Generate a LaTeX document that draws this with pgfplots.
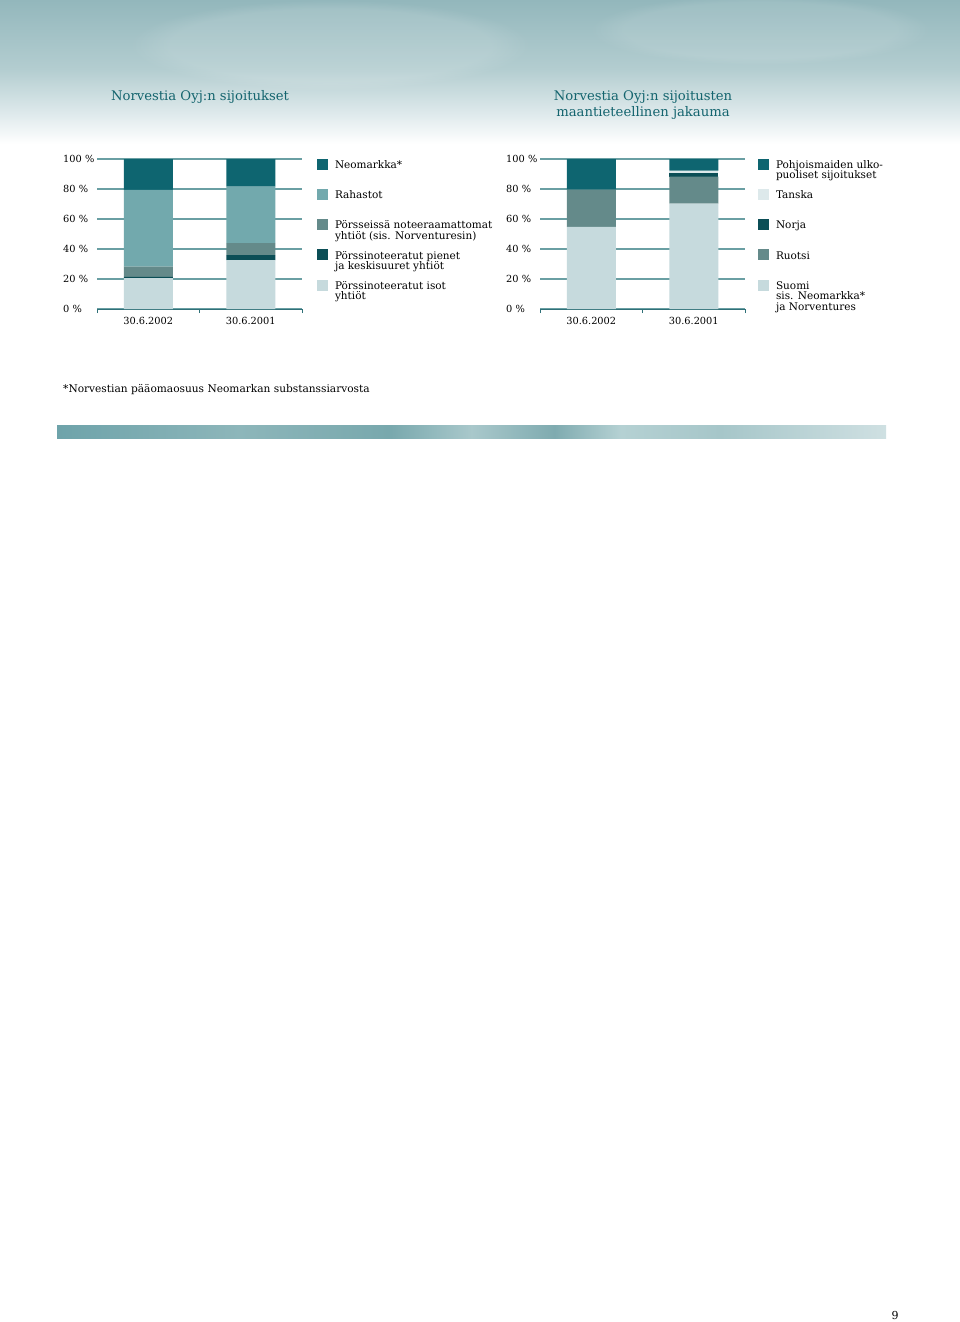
\documentclass[border=0pt]{standalone}
\usepackage{fontspec}
\setmainfont{DejaVu Serif}
\usepackage{pgfplots}
\pgfplotsset{compat=1.18}
\usetikzlibrary{fadings}

\definecolor{neo}{HTML}{0E6570}
\definecolor{raha}{HTML}{72A9AD}
\definecolor{note}{HTML}{648A8A}
\definecolor{pien}{HTML}{0B4E56}
\definecolor{isot}{HTML}{C6DADD}
\definecolor{tans}{HTML}{DDE9EB}
\definecolor{gridc}{HTML}{6A9FA3}
\definecolor{axc}{HTML}{2F7078}
\definecolor{titc}{HTML}{13646E}
\definecolor{banA}{HTML}{93B7BC}
\definecolor{banB}{HTML}{B3CDD0}
\definecolor{banC}{HTML}{DCE8EA}
\definecolor{s1}{HTML}{6EA3AA}
\definecolor{s2}{HTML}{8DB6BA}
\definecolor{s3}{HTML}{78A8AD}
\definecolor{s4}{HTML}{A9C8CB}
\definecolor{s5}{HTML}{7FABB0}
\definecolor{s6}{HTML}{B5D1D3}
\definecolor{s7}{HTML}{A6C6C9}
\definecolor{s8}{HTML}{CFE0E2}

% TikZ fits the middle 50bp of a shading to the path
\pgfdeclareverticalshading{banner}{100bp}{color(0bp)=(white); color(27bp)=(white); color(38bp)=(banC); color(52bp)=(banB); color(75bp)=(banA); color(100bp)=(banA)}
\pgfdeclarehorizontalshading{strip}{100bp}{color(0bp)=(s1); color(25bp)=(s1); color(36bp)=(s2); color(45bp)=(s3); color(50bp)=(s4); color(55bp)=(s5); color(59bp)=(s6); color(65bp)=(s7); color(75bp)=(s8); color(100bp)=(s8)}

% legend text: smashed so every row keeps the same pitch
\newcommand{\legtxt}[1]{\smash{\parbox[t]{180pt}{\fontsize{10.5}{10.5}\selectfont\raggedright #1}}}

\pgfplotsset{
  pagechart/.style={
    scale only axis, width=205pt, height=150pt,
    anchor=south west,
    xmin=0, xmax=2, ymin=0, ymax=100,
    ybar stacked, bar width=49pt,
    axis lines*=left,
    y axis line style={draw=none},
    x axis line style={axc, line width=1pt, -},
    ytick={0,20,...,100},
    yticklabels={0 \%,20 \%,40 \%,60 \%,80 \%,100 \%},
    ymajorgrids, major grid style={gridc, line width=1.4pt},
    ytick style={draw=none},
    xtick={0.5,1.5},
    xticklabels={30.6.2002,30.6.2001},
    major x tick style={draw=none},
    minor xtick={0,1,2},
    xtick align=outside,
    minor tick length=4pt,
    minor x tick style={axc, line width=1pt},
    tick label style={font=\fontsize{9.8}{11}\selectfont, text=black},
    yticklabel style={anchor=west, inner sep=0pt, xshift=-34pt},
    xticklabel style={yshift=0pt},
    clip=false,
    legend cell align=left,
    reverse legend,
    legend style={draw=none, fill=none, inner sep=0pt, outer sep=0pt,
      anchor=north west, row sep=19pt, column sep=7pt,
      nodes={inner sep=0pt}},
    legend image code/.code={\fill[##1] (0pt,-0.5pt) rectangle (11pt,10.5pt);},
  },
}

\begin{document}
\begin{tikzpicture}
\fill[white] (0pt,0pt) rectangle (960pt,-1322pt);
\path[use as bounding box] (0pt,0pt) rectangle (960pt,-1322pt);

% header banner
\shade[shading=banner] (0pt,0pt) rectangle (960pt,-150pt);
\fill[white, opacity=0.12, path fading=circle with fuzzy edge 20 percent] (330pt,-45pt) ellipse (200pt and 45pt);
\fill[white, opacity=0.1, path fading=circle with fuzzy edge 20 percent] (760pt,-30pt) ellipse (170pt and 35pt);

\node[text=titc, font=\fontsize{13.2}{16}\selectfont] at (200pt,-97pt) {Norvestia Oyj:n sijoitukset};
\node[text=titc, font=\fontsize{13.2}{16}\selectfont, align=center] at (643pt,-105pt)
  {Norvestia Oyj:n sijoitusten\\maantieteellinen jakauma};

% left chart
\begin{axis}[pagechart, at={(97pt,-309pt)},
  legend style={at={(1.0732,1.0033)}}]
\addplot[fill=isot, draw=none] coordinates {(0.5,20.6) (1.5,32.6)};
\addlegendentry{\legtxt{Pörssinoteeratut isot\\yhtiöt}}
\addplot[fill=pien, draw=none] coordinates {(0.5,0.9) (1.5,3.3)};
\addlegendentry{\legtxt{Pörssinoteeratut pienet\\ja keskisuuret yhtiöt}}
\addplot[fill=note, draw=none] coordinates {(0.5,6.7) (1.5,8.0)};
\addlegendentry{\legtxt{Pörsseissä noteeraamattomat\\yhtiöt (sis. Norventuresin)}}
\addplot[fill=raha, draw=none] coordinates {(0.5,51.2) (1.5,37.7)};
\addlegendentry{\legtxt{Rahastot}}
\addplot[fill=neo, draw=none] coordinates {(0.5,20.6) (1.5,18.4)};
\addlegendentry{\legtxt{Neomarkka*}}
\end{axis}

% right chart
\begin{axis}[pagechart, at={(540pt,-309pt)},
  legend style={at={(1.0634,1.0033)}}]
\addplot[fill=isot, draw=none] coordinates {(0.5,54.8) (1.5,70.3)};
\addlegendentry{\legtxt{Suomi\\sis. Neomarkka*\\ja Norventures}}
\addplot[fill=note, draw=none] coordinates {(0.5,24.8) (1.5,17.9)};
\addlegendentry{\legtxt{Ruotsi}}
\addplot[fill=pien, draw=none] coordinates {(0.5,0) (1.5,2.7)};
\addlegendentry{\legtxt{Norja}}
\addplot[fill=tans, draw=none] coordinates {(0.5,0) (1.5,1.3)};
\addlegendentry{\legtxt{Tanska}}
\addplot[fill=neo, draw=none] coordinates {(0.5,20.4) (1.5,7.8)};
\addlegendentry{\legtxt{Pohjoismaiden ulko-\\puoliset sijoitukset}}
\end{axis}

\node[anchor=west, inner sep=0pt, font=\fontsize{10.6}{12}\selectfont] at (63pt,-390pt)
  {*Norvestian pääomaosuus Neomarkan substanssiarvosta};

\shade[shading=strip] (57pt,-425pt) rectangle (886pt,-438pt);

\node[font=\fontsize{11}{13}\selectfont] at (895pt,-1315pt) {9};
\end{tikzpicture}
\end{document}
